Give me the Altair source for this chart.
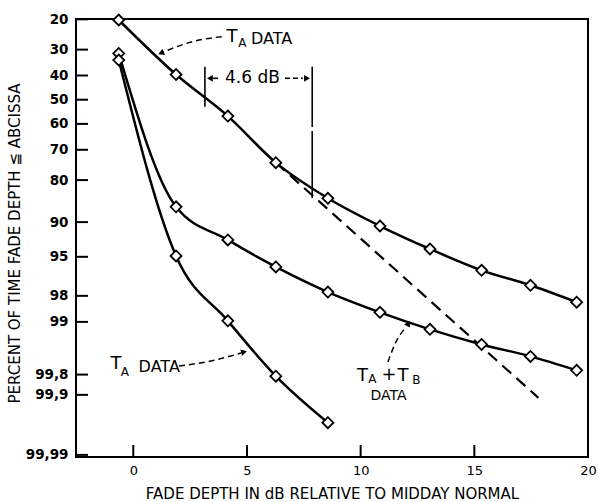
import statistics
import pandas as pd
import altair as alt

ND = statistics.NormalDist()


def probit(pct):
    return ND.inv_cdf(pct / 100.0)


# ---------------- data ----------------
FADE_DB = [-0.64, 1.88, 4.16, 6.27, 8.56, 10.85, 13.05, 15.32, 17.47, 19.50]
TA_UPPER_PCT = [20.2, 39.6, 56.8, 74.5, 84.9, 90.7, 94.1, 96.3, 97.4, 98.3]
TATB_PCT = [31.4, 86.9, 92.9, 96.0, 97.8, 98.7, 99.19, 99.48, 99.64, 99.77]
TA_LOWER_PCT = [33.9, 94.9, 98.97, 99.81, 99.964]

EXTRAP_DB = [6.27, 17.82]
EXTRAP_PCT = [74.5, 99.91]

Y_TICKS_PCT = [20, 30, 40, 50, 60, 70, 80, 90, 95, 98, 99, 99.8, 99.9, 99.99]
Y_TICK_LABELS = ["20", "30", "40", "50", "60", "70", "80", "90", "95", "98",
                 "99", "99,8", "99,9", "99,99"]
X_TICKS = [0, 5, 10, 15, 20]

# annotation texts (x in dB, y in probit units of the plotted field)
ANN_TEXT = ["T", "A", "DATA",
            "T", "A", "DATA",
            "T", "A", "+", "T", "B", "DATA",
            "4.6 dB"]
ANN_X = [4.34, 4.80, 6.08,
         -0.76, -0.37, 1.14,
         10.08, 10.52, 11.25, 11.86, 12.45, 11.23,
         5.24]
ANN_Z = [-0.657, -0.596, -0.638,
         2.768, 2.851, 2.799,
         2.888, 2.928, 2.883, 2.888, 2.930, 3.106,
         -0.224]
ANN_SIZE = [18, 12, 16,
            18, 12, 16,
            18, 12, 18, 18, 12, 14,
            17]

# dashed leader lines
LEADER_ID = ["u", "u", "u", "l", "l", "l", "m", "m", "m"]
LEADER_X = [3.89, 2.71, 1.31, 2.01, 3.51, 4.74, 11.20, 11.55, 12.01]
LEADER_Z = [-0.660, -0.615, -0.499, 2.788, 2.731, 2.652, 2.747, 2.537, 2.380]

# arrow heads
ARROW_X = [1.22, 4.87, 12.10, 3.37, 7.64]
ARROW_Z = [-0.489, 2.642, 2.343, -0.224, -0.224]
ARROW_ANGLE = [247, 76, 27, 270, 90]

# 4.6 dB dimension dashes
DIM_X1 = [3.51, 6.67]
DIM_X2 = [3.86, 7.46]
DIM_Z = [-0.224, -0.224]

# vertical reference lines
VLINE_X = [3.15, 7.87, 7.87]
VLINE_Z1 = [-0.346, -0.346, 0.328]
VLINE_Z2 = [0.073, 0.286, 1.031]

# ---------------- tables ----------------
rows = []
for name, pcts in [("TA_upper", TA_UPPER_PCT), ("TATB", TATB_PCT), ("TA_lower", TA_LOWER_PCT)]:
    for x, p in zip(FADE_DB, pcts):
        rows.append({"series": name, "x": x, "pct": p, "z": probit(p)})
series_df = pd.DataFrame(rows)

extrap_df = pd.DataFrame({"x": EXTRAP_DB, "z": [probit(p) for p in EXTRAP_PCT]})
ytick_df = pd.DataFrame({"z": [probit(p) for p in Y_TICKS_PCT]})
xtick_df = pd.DataFrame({"x": X_TICKS[:-1]})
ann_df = pd.DataFrame({"t": ANN_TEXT, "x": ANN_X, "z": ANN_Z, "fs": ANN_SIZE})
lead_df = pd.DataFrame({"id": LEADER_ID, "x": LEADER_X, "z": LEADER_Z,
                        "o": list(range(len(LEADER_ID)))})
arrow_df = pd.DataFrame({"x": ARROW_X, "z": ARROW_Z, "a": ARROW_ANGLE})
dim_df = pd.DataFrame({"x": DIM_X1, "x2": DIM_X2, "z": DIM_Z})
vline_df = pd.DataFrame({"x": VLINE_X, "z": VLINE_Z1, "z2": VLINE_Z2})

# ---------------- scales / axes ----------------
FONT = "DejaVu Sans"
W, H = 512, 438

label_expr = "''"
for zt, lab in reversed(list(zip([probit(p) for p in Y_TICKS_PCT], Y_TICK_LABELS))):
    label_expr = f"abs(datum.value - ({zt:.6f})) < 0.001 ? '{lab}' : ({label_expr})"

x_scale = alt.Scale(domain=[-2.52, 20.0], nice=False, zero=False)
y_scale = alt.Scale(domain=[-0.845, 3.741], nice=False, zero=False, reverse=True)

x_axis = alt.Axis(values=X_TICKS, title="FADE DEPTH IN dB RELATIVE TO MIDDAY NORMAL",
                  titleX=256, titleY=36, titleAlign="center", titleBaseline="middle",
                  labelPadding=7, labelOverlap=False, labelFlush=False)
y_axis = alt.Axis(values=[probit(p) for p in Y_TICKS_PCT], labelExpr=label_expr,
                  title="PERCENT OF TIME FADE DEPTH \u2266 ABCISSA",
                  titleAngle=270, titleX=-62, titleY=224, titleAlign="center",
                  titleBaseline="middle", labelPadding=8, labelOverlap=False,
                  labelFontWeight="bold", labelFontSize=13.5, labelFlush=False)


def X(field="x"):
    return alt.X(f"{field}:Q", scale=x_scale, axis=x_axis)


def Y(field="z"):
    return alt.Y(f"{field}:Q", scale=y_scale, axis=y_axis)


curves = alt.Chart(series_df).mark_line(
    interpolate="monotone", color="black", strokeWidth=2.5
).encode(x=X(), y=Y(), detail="series:N")

extrap = alt.Chart(extrap_df).mark_line(
    color="black", strokeWidth=2.2, strokeDash=[12, 7]
).encode(x=X(), y=Y())

points = alt.Chart(series_df).mark_point(
    shape="diamond", filled=True, fill="white", stroke="black",
    strokeWidth=1.8, size=120, opacity=1
).encode(x=X(), y=Y())

yticks = alt.Chart(ytick_df).mark_rule(color="black", strokeWidth=2).encode(
    y=Y(), x=alt.value(0), x2=alt.value(12))

xticks = alt.Chart(xtick_df).mark_rule(color="black", strokeWidth=2).encode(
    x=X(), y=alt.value(H), y2=alt.value(H - 12))

vlines = alt.Chart(vline_df).mark_rule(color="black", strokeWidth=1.6).encode(
    x=X(), y=Y(), y2="z2:Q")

dims = alt.Chart(dim_df).mark_rule(color="black", strokeWidth=1.6, strokeDash=[5, 3]).encode(
    x=X(), x2="x2:Q", y=Y())

leaders = alt.Chart(lead_df).mark_line(
    color="black", strokeWidth=1.5, strokeDash=[6, 4], interpolate="monotone"
).encode(x=X(), y=Y(), detail="id:N", order="o:Q")

arrows = alt.Chart(arrow_df).mark_point(
    shape="triangle-up", filled=True, color="black", size=45, opacity=1
).encode(x=X(), y=Y(), angle=alt.Angle("a:Q", scale=None))

texts = alt.Chart(ann_df).mark_text(
    font=FONT, color="black", align="center", baseline="middle"
).encode(x=X(), y=Y(), text="t:N", size=alt.Size("fs:Q", scale=None))

chart = alt.layer(
    yticks, xticks, vlines, dims, extrap, curves, leaders, arrows, points, texts
).properties(
    width=W, height=H,
    autosize=alt.AutoSizeParams(type="none"),
    padding={"left": 76, "top": 19, "right": 11, "bottom": 45},
    background="white",
).configure_view(
    stroke="black", strokeWidth=2
).configure_axis(
    domain=False, ticks=False, grid=False,
    labelFont=FONT, labelFontSize=13, labelColor="black",
    titleFont=FONT, titleFontSize=15, titleFontWeight="normal", titleColor="black",
)

chart.save("out.html", embed_options={"renderer": "svg", "actions": False})
